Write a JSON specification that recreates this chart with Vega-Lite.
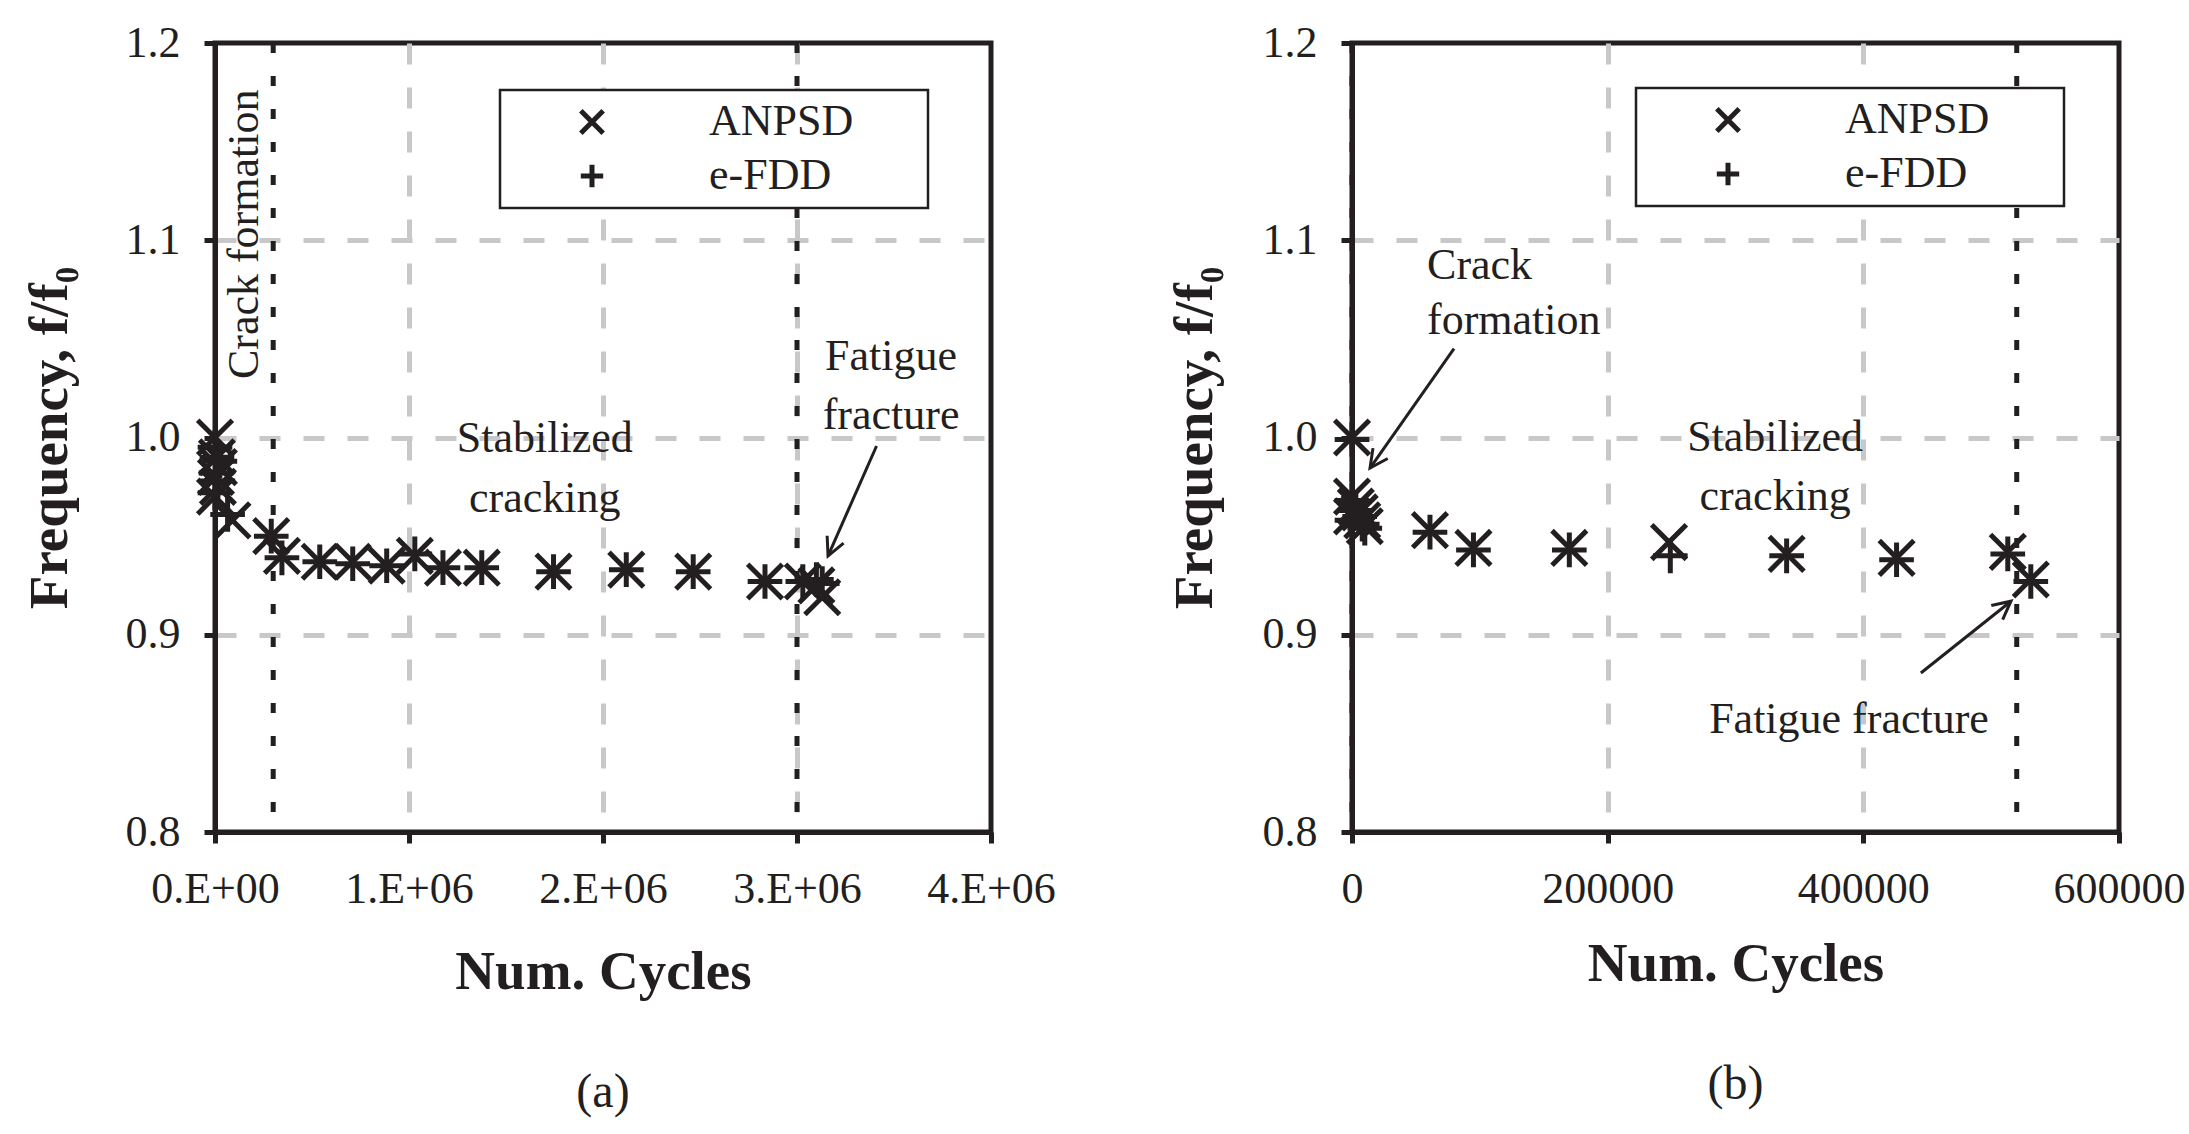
{
  "$schema": "https://vega.github.io/schema/vega-lite/v6.json",
  "background": "white",
  "padding": {"left": 19, "top": 18, "right": 0, "bottom": 0},
  "datasets": {
    "panelA": [
      {"cycles": 0, "method": "ANPSD", "freq": 1.0},
      {"cycles": 10000, "method": "ANPSD", "freq": 0.99},
      {"cycles": 20000, "method": "ANPSD", "freq": 0.985},
      {"cycles": 5000, "method": "ANPSD", "freq": 0.98},
      {"cycles": 15000, "method": "ANPSD", "freq": 0.975},
      {"cycles": 0, "method": "ANPSD", "freq": 0.97},
      {"cycles": 90000, "method": "ANPSD", "freq": 0.958},
      {"cycles": 290000, "method": "ANPSD", "freq": 0.95},
      {"cycles": 345000, "method": "ANPSD", "freq": 0.94},
      {"cycles": 540000, "method": "ANPSD", "freq": 0.937},
      {"cycles": 710000, "method": "ANPSD", "freq": 0.937},
      {"cycles": 885000, "method": "ANPSD", "freq": 0.935},
      {"cycles": 1030000, "method": "ANPSD", "freq": 0.94},
      {"cycles": 1175000, "method": "ANPSD", "freq": 0.934},
      {"cycles": 1375000, "method": "ANPSD", "freq": 0.934},
      {"cycles": 1745000, "method": "ANPSD", "freq": 0.932},
      {"cycles": 2120000, "method": "ANPSD", "freq": 0.933},
      {"cycles": 2465000, "method": "ANPSD", "freq": 0.932},
      {"cycles": 2835000, "method": "ANPSD", "freq": 0.927},
      {"cycles": 3030000, "method": "ANPSD", "freq": 0.927},
      {"cycles": 3100000, "method": "ANPSD", "freq": 0.925},
      {"cycles": 3130000, "method": "ANPSD", "freq": 0.919},
      {"cycles": 0, "method": "e-FDD", "freq": 0.995},
      {"cycles": 10000, "method": "e-FDD", "freq": 0.99},
      {"cycles": 25000, "method": "e-FDD", "freq": 0.988},
      {"cycles": 5000, "method": "e-FDD", "freq": 0.982},
      {"cycles": 15000, "method": "e-FDD", "freq": 0.978},
      {"cycles": 0, "method": "e-FDD", "freq": 0.972},
      {"cycles": 65000, "method": "e-FDD", "freq": 0.961},
      {"cycles": 290000, "method": "e-FDD", "freq": 0.95},
      {"cycles": 345000, "method": "e-FDD", "freq": 0.939},
      {"cycles": 540000, "method": "e-FDD", "freq": 0.937},
      {"cycles": 710000, "method": "e-FDD", "freq": 0.936},
      {"cycles": 885000, "method": "e-FDD", "freq": 0.935},
      {"cycles": 1030000, "method": "e-FDD", "freq": 0.941},
      {"cycles": 1175000, "method": "e-FDD", "freq": 0.934},
      {"cycles": 1375000, "method": "e-FDD", "freq": 0.934},
      {"cycles": 1745000, "method": "e-FDD", "freq": 0.932},
      {"cycles": 2120000, "method": "e-FDD", "freq": 0.933},
      {"cycles": 2465000, "method": "e-FDD", "freq": 0.932},
      {"cycles": 2835000, "method": "e-FDD", "freq": 0.927},
      {"cycles": 3030000, "method": "e-FDD", "freq": 0.927},
      {"cycles": 3100000, "method": "e-FDD", "freq": 0.928},
      {"cycles": 3130000, "method": "e-FDD", "freq": 0.926}
    ],
    "panelB": [
      {"cycles": 0, "method": "ANPSD", "freq": 1.0},
      {"cycles": 0, "method": "ANPSD", "freq": 0.97},
      {"cycles": 3000, "method": "ANPSD", "freq": 0.965},
      {"cycles": 6000, "method": "ANPSD", "freq": 0.962},
      {"cycles": 0, "method": "ANPSD", "freq": 0.96},
      {"cycles": 8000, "method": "ANPSD", "freq": 0.958},
      {"cycles": 10000, "method": "ANPSD", "freq": 0.955},
      {"cycles": 61000, "method": "ANPSD", "freq": 0.953},
      {"cycles": 95000, "method": "ANPSD", "freq": 0.944},
      {"cycles": 170000, "method": "ANPSD", "freq": 0.944},
      {"cycles": 248000, "method": "ANPSD", "freq": 0.947},
      {"cycles": 340000, "method": "ANPSD", "freq": 0.941},
      {"cycles": 426000, "method": "ANPSD", "freq": 0.939},
      {"cycles": 513000, "method": "ANPSD", "freq": 0.942},
      {"cycles": 531000, "method": "ANPSD", "freq": 0.928},
      {"cycles": 0, "method": "e-FDD", "freq": 0.999},
      {"cycles": 0, "method": "e-FDD", "freq": 0.968},
      {"cycles": 3000, "method": "e-FDD", "freq": 0.963},
      {"cycles": 6000, "method": "e-FDD", "freq": 0.96},
      {"cycles": 0, "method": "e-FDD", "freq": 0.958},
      {"cycles": 8000, "method": "e-FDD", "freq": 0.956},
      {"cycles": 10000, "method": "e-FDD", "freq": 0.954},
      {"cycles": 61000, "method": "e-FDD", "freq": 0.952},
      {"cycles": 95000, "method": "e-FDD", "freq": 0.943},
      {"cycles": 170000, "method": "e-FDD", "freq": 0.943},
      {"cycles": 249000, "method": "e-FDD", "freq": 0.94},
      {"cycles": 340000, "method": "e-FDD", "freq": 0.94},
      {"cycles": 426000, "method": "e-FDD", "freq": 0.938},
      {"cycles": 513000, "method": "e-FDD", "freq": 0.941},
      {"cycles": 531000, "method": "e-FDD", "freq": 0.927}
    ]
  },
  "hconcat": [
    {
      "width": 776,
      "height": 789,
      "title": {"text": "(a)", "orient": "bottom", "offset": 70},
      "layer": [
        {
          "data": {"values": [{"cycles": 300000}, {"cycles": 3000000}]},
          "mark": {"type": "rule", "color": "#231f20", "strokeWidth": 5, "strokeDash": [10, 23]},
          "encoding": {
            "x": {"field": "cycles", "type": "quantitative", "scale": {"domain": [0, 4000000], "nice": false}}
          }
        },
        {
          "data": {"name": "panelA"},
          "mark": {"type": "point", "filled": false, "strokeWidth": 5, "size": 1200, "opacity": 1},
          "encoding": {
            "x": {
              "field": "cycles", "type": "quantitative",
              "scale": {"domain": [0, 4000000], "nice": false},
              "axis": {
                "values": [0, 1000000, 2000000, 3000000, 4000000],
                "labelExpr": "datum.value == 0 ? '0.E+00' : (datum.value / 1000000) + '.E+06'",
                "titlePadding": 34,
                "gridOpacity": {"condition": {"test": "datum.value == 0 || datum.value == 4000000", "value": 0}, "value": 1}
              },
              "title": "Num. Cycles"
            },
            "y": {
              "field": "freq", "type": "quantitative",
              "scale": {"domain": [0.8, 1.2], "nice": false, "zero": false},
              "axis": {
                "values": [0.8, 0.9, 1.0, 1.1, 1.2], "format": ".1f", "titlePadding": 47,
                "gridOpacity": {"condition": {"test": "datum.value < 0.85 || datum.value > 1.15", "value": 0}, "value": 1}
              },
              "title": "Frequency, f/f₀"
            },
            "shape": {
              "field": "method", "type": "nominal",
              "scale": {"domain": ["ANPSD", "e-FDD"], "range": ["M-1,-1L1,1M-1,1L1,-1", "M-1,0L1,0M0,-1L0,1"]},
              "legend": {"orient": "none", "legendX": 285, "legendY": 47, "title": null, "labelLimit": 600, "labelExpr": "datum.label + '\u2800\u2800'"}
            },
            "color": {"value": "#231f20"}
          }
        },
        {
          "data": {"values": [{"cycles": 155000, "freq": 1.103, "label": "Crack formation"}]},
          "mark": {"type": "text", "angle": 270, "fontSize": 44, "align": "center", "baseline": "middle", "color": "#231f20"},
          "encoding": {
            "x": {"field": "cycles", "type": "quantitative"},
            "y": {"field": "freq", "type": "quantitative"},
            "text": {"field": "label"}
          }
        },
        {
          "data": {"values": [
            {"cycles": 1700000, "freq": 0.999, "label": "Stabilized"},
            {"cycles": 1700000, "freq": 0.969, "label": "cracking"},
            {"cycles": 3485000, "freq": 1.041, "label": "Fatigue"},
            {"cycles": 3485000, "freq": 1.011, "label": "fracture"}
          ]},
          "mark": {"type": "text", "fontSize": 44, "align": "center", "baseline": "middle", "color": "#231f20"},
          "encoding": {
            "x": {"field": "cycles", "type": "quantitative"},
            "y": {"field": "freq", "type": "quantitative"},
            "text": {"field": "label"}
          }
        },
        {
          "data": {"values": [{"x": 3410000, "y": 0.9957, "x2": 3160000, "y2": 0.94}]},
          "layer": [
            {
              "mark": {"type": "rule", "color": "#231f20", "strokeWidth": 3},
              "encoding": {
                "x": {"field": "x", "type": "quantitative"},
                "y": {"field": "y", "type": "quantitative"},
                "x2": {"field": "x2"},
                "y2": {"field": "y2"}
              }
            },
            {
              "mark": {"type": "point", "shape": "M-0.5,1L0,0L0.5,1", "filled": false, "size": 1300, "strokeWidth": 3, "angle": 204, "color": "#231f20", "opacity": 1},
              "encoding": {
                "x": {"field": "x2", "type": "quantitative"},
                "y": {"field": "y2", "type": "quantitative"}
              }
            }
          ]
        }
      ]
    },
    {
      "width": 767,
      "height": 789,
      "title": {"text": "(b)", "orient": "bottom", "offset": 70},
      "layer": [
        {
          "data": {"values": [{"cycles": 0}, {"cycles": 520000}]},
          "mark": {"type": "rule", "color": "#231f20", "strokeWidth": 5, "strokeDash": [10, 23]},
          "encoding": {
            "x": {"field": "cycles", "type": "quantitative", "scale": {"domain": [0, 600000], "nice": false}}
          }
        },
        {
          "data": {"name": "panelB"},
          "mark": {"type": "point", "filled": false, "strokeWidth": 5, "size": 1200, "opacity": 1},
          "encoding": {
            "x": {
              "field": "cycles", "type": "quantitative",
              "scale": {"domain": [0, 600000], "nice": false},
              "axis": {
                "values": [0, 200000, 400000, 600000], "format": "d", "titlePadding": 26,
                "gridOpacity": {"condition": {"test": "datum.value == 0 || datum.value == 600000", "value": 0}, "value": 1}
              },
              "title": "Num. Cycles"
            },
            "y": {
              "field": "freq", "type": "quantitative",
              "scale": {"domain": [0.8, 1.2], "nice": false, "zero": false},
              "axis": {
                "values": [0.8, 0.9, 1.0, 1.1, 1.2], "format": ".1f", "titlePadding": 39,
                "gridOpacity": {"condition": {"test": "datum.value < 0.85 || datum.value > 1.15", "value": 0}, "value": 1}
              },
              "title": "Frequency, f/f₀"
            },
            "shape": {
              "field": "method", "type": "nominal",
              "scale": {"domain": ["ANPSD", "e-FDD"], "range": ["M-1,-1L1,1M-1,1L1,-1", "M-1,0L1,0M0,-1L0,1"]},
              "legend": {"orient": "none", "legendX": 284, "legendY": 45, "title": null, "labelLimit": 600, "labelExpr": "datum.label + '\u2800\u2800'"}
            },
            "color": {"value": "#231f20"}
          }
        },
        {
          "data": {"values": [
            {"cycles": 58700, "freq": 1.087, "label": "Crack"},
            {"cycles": 58700, "freq": 1.059, "label": "formation"}
          ]},
          "mark": {"type": "text", "fontSize": 44, "align": "left", "baseline": "middle", "color": "#231f20"},
          "encoding": {
            "x": {"field": "cycles", "type": "quantitative"},
            "y": {"field": "freq", "type": "quantitative"},
            "text": {"field": "label"}
          }
        },
        {
          "data": {"values": [
            {"cycles": 331000, "freq": 1.0, "label": "Stabilized"},
            {"cycles": 331000, "freq": 0.97, "label": "cracking"},
            {"cycles": 388800, "freq": 0.857, "label": "Fatigue fracture"}
          ]},
          "mark": {"type": "text", "fontSize": 44, "align": "center", "baseline": "middle", "color": "#231f20"},
          "encoding": {
            "x": {"field": "cycles", "type": "quantitative"},
            "y": {"field": "freq", "type": "quantitative"},
            "text": {"field": "label"}
          }
        },
        {
          "data": {"values": [{"x": 79800, "y": 1.045, "x2": 14100, "y2": 0.9845}]},
          "layer": [
            {
              "mark": {"type": "rule", "color": "#231f20", "strokeWidth": 3},
              "encoding": {
                "x": {"field": "x", "type": "quantitative"},
                "y": {"field": "y", "type": "quantitative"},
                "x2": {"field": "x2"},
                "y2": {"field": "y2"}
              }
            },
            {
              "mark": {"type": "point", "shape": "M-0.5,1L0,0L0.5,1", "filled": false, "size": 1300, "strokeWidth": 3, "angle": 215, "color": "#231f20", "opacity": 1},
              "encoding": {
                "x": {"field": "x2", "type": "quantitative"},
                "y": {"field": "y2", "type": "quantitative"}
              }
            }
          ]
        },
        {
          "data": {"values": [{"x": 445000, "y": 0.8806, "x2": 515500, "y2": 0.917}]},
          "layer": [
            {
              "mark": {"type": "rule", "color": "#231f20", "strokeWidth": 3},
              "encoding": {
                "x": {"field": "x", "type": "quantitative"},
                "y": {"field": "y", "type": "quantitative"},
                "x2": {"field": "x2"},
                "y2": {"field": "y2"}
              }
            },
            {
              "mark": {"type": "point", "shape": "M-0.5,1L0,0L0.5,1", "filled": false, "size": 1300, "strokeWidth": 3, "angle": 51, "color": "#231f20", "opacity": 1},
              "encoding": {
                "x": {"field": "x2", "type": "quantitative"},
                "y": {"field": "y2", "type": "quantitative"}
              }
            }
          ]
        }
      ]
    }
  ],
  "spacing": 106,
  "resolve": {
    "scale": {"x": "independent", "y": "independent", "shape": "independent"},
    "legend": {"shape": "independent"}
  },
  "config": {
    "font": "Liberation Serif",
    "view": {"stroke": "#231f20", "strokeWidth": 5},
    "axis": {
      "labelFont": "Liberation Serif",
      "labelFontSize": 44,
      "labelColor": "#231f20",
      "labelPadding": 24,
      "labelFlush": false,
      "labelOverlap": false,
      "domainColor": "#231f20",
      "domainWidth": 5,
      "tickColor": "#231f20",
      "tickWidth": 5,
      "tickSize": 11,
      "gridColor": "#c8c8c8",
      "gridWidth": 5,
      "gridDash": [21, 23],
      "titleFont": "Liberation Serif",
      "titleFontSize": 55,
      "titleFontWeight": "bold",
      "titleColor": "#231f20"
    },
    "legend": {
      "strokeColor": "#231f20",
      "strokeWidth": 2.5,
      "fillColor": "white",
      "padding": 10,
      "rowPadding": 10,
      "symbolSize": 500,
      "symbolStrokeWidth": 5,
      "symbolStrokeColor": "#231f20",
      "symbolOffset": 60,
      "labelOffset": 95,
      "labelFont": "Liberation Serif",
      "labelFontSize": 44,
      "labelColor": "#231f20"
    },
    "title": {
      "font": "Liberation Serif",
      "fontSize": 48,
      "fontWeight": "normal",
      "color": "#231f20"
    }
  }
}
